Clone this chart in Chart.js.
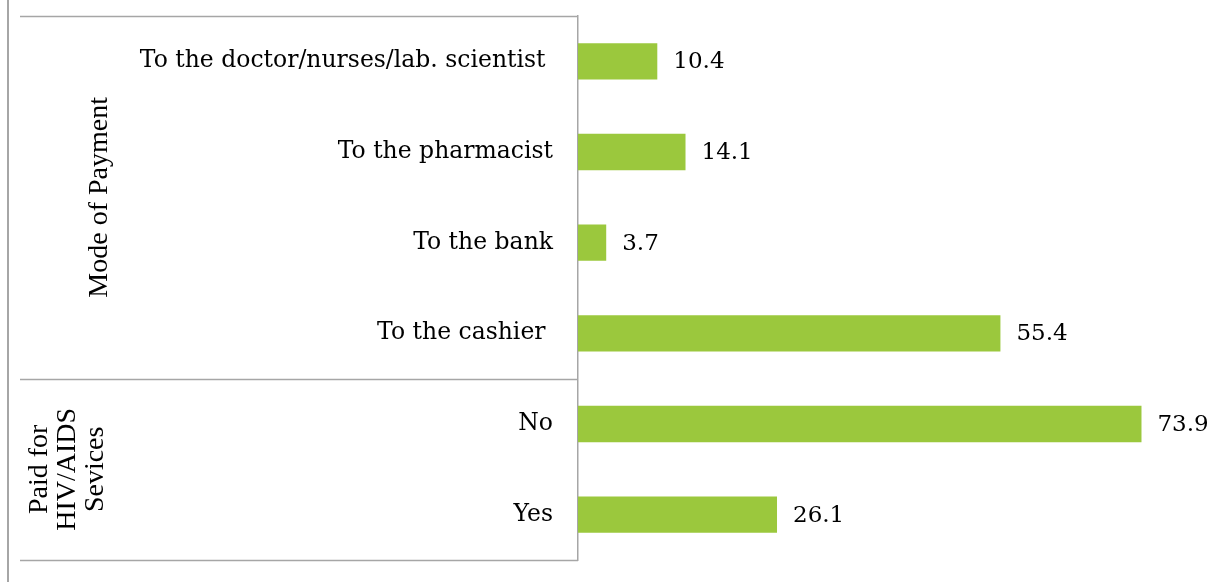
<html>
<head>
<script src="https://cdn.jsdelivr.net/npm/chart.js@4"></script>
<style>
body{margin:0;background:#fff;}
#wrap{width:1207px;height:582px;position:relative;}
</style>
</head>
<body>
<div id="wrap"><canvas id="pay"></canvas></div>
<script>
// rows, top to bottom
var categories = ['To the doctor/nurses/lab. scientist ', 'To the pharmacist', 'To the bank', 'To the cashier ', 'No', 'Yes'];
var percents = [10.4, 14.1, 3.7, 55.4, 73.9, 26.1];
// group label, first row, last row
var groups = [
  {lines: ['Mode of Payment'], from: 0, to: 3, x: 100},
  {lines: ['Paid for', 'HIV/AIDS', 'Sevices'], from: 4, to: 5, x: 68}
];

var lineCol = '#a6a6a6';
var serif = "'DejaVu Serif', Georgia, serif";

var frame = {
  id: 'frame',
  afterDraw: function(chart){
    var c = chart.ctx, a = chart.chartArea, y = chart.scales.y;
    var rowH = (y.getPixelForValue(1) - y.getPixelForValue(0));
    c.save();
    c.strokeStyle = lineCol;
    // outer left edge
    c.lineWidth = 2;
    c.beginPath(); c.moveTo(8, 0); c.lineTo(8, chart.height); c.stroke();
    // row group boundaries
    c.lineWidth = 1.5;
    var cuts = [a.top];
    groups.forEach(function(g){ cuts.push(y.getPixelForValue(g.to) + rowH/2); });
    cuts.forEach(function(py){
      py = Math.round(py) + 0.5;
      c.beginPath(); c.moveTo(20, py); c.lineTo(a.left, py); c.stroke();
    });
    // group titles, rotated
    c.fillStyle = '#000';
    c.font = "28px 'Liberation Serif', 'Times New Roman', serif";
    c.textAlign = 'center';
    c.textBaseline = 'middle';
    groups.forEach(function(g){
      var cy = (y.getPixelForValue(g.from) + y.getPixelForValue(g.to)) / 2;
      c.save();
      c.translate(g.x, cy);
      c.rotate(-Math.PI/2);
      var n = g.lines.length, lh = 28;
      g.lines.forEach(function(t, i){
        c.fillText(t, 0, (i - (n-1)/2) * lh);
      });
      c.restore();
    });
    // value labels
    c.font = '23px ' + serif;
    c.textAlign = 'left';
    var meta = chart.getDatasetMeta(0);
    meta.data.forEach(function(bar, i){
      c.fillText(percents[i].toFixed(1), bar.x + 16, bar.y + 1);
    });
    c.restore();
  }
};

new Chart(document.getElementById('pay'), {
  type: 'bar',
  data: {
    labels: categories,
    datasets: [{
      data: percents,
      backgroundColor: '#9bc83d',
      categoryPercentage: 0.8,
      barPercentage: 0.5
    }]
  },
  options: {
    indexAxis: 'y',
    responsive: true,
    maintainAspectRatio: false,
    animation: false,
    layout: {padding: {top: 16, bottom: 22, right: 19, left: 0}},
    plugins: {legend: {display: false}, tooltip: {enabled: false}},
    scales: {
      x: {display: false, min: 0, max: 80},
      y: {
        afterFit: function(s){
          s.width = 578;
          s.paddingTop = 0;
          s.paddingBottom = 0;
        },
        grid: {display: false, drawTicks: false},
        border: {display: true, color: lineCol, width: 1.5},
        ticks: {
          color: '#000',
          padding: 25,
          font: {family: serif, size: 23.5}
        }
      }
    }
  },
  plugins: [frame]
});
</script>
</body>
</html>
